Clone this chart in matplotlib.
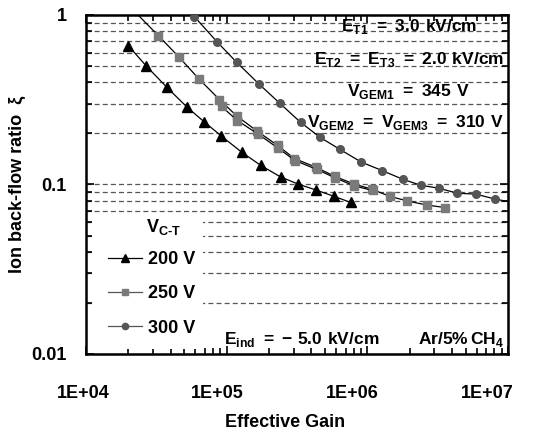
import matplotlib.pyplot as plt
import matplotlib.transforms as mtransforms
from matplotlib.patches import Rectangle

plt.rcParams["font.family"] = ["Liberation Sans", "DejaVu Sans"]
plt.rcParams["font.weight"] = "bold"
plt.rcParams["mathtext.fontset"] = "custom"
plt.rcParams["mathtext.rm"] = "Liberation Sans"
plt.rcParams["mathtext.bf"] = "Liberation Sans:bold"

# V_C-T = 200 V
gain_200 = [2.0e4, 2.67e4, 3.75e4, 5.25e4, 6.93e4, 9.1e4, 1.28e5, 1.75e5,
            2.42e5, 3.24e5, 4.31e5, 5.82e5, 7.64e5]
ibf_200 = [0.659, 0.502, 0.375, 0.285, 0.234, 0.194, 0.155, 0.1295,
           0.1107, 0.1004, 0.0928, 0.0850, 0.0783]

# V_C-T = 250 V (two runs)
gain_250a = [2.05e4, 3.27e4, 4.56e4, 6.36e4, 8.89e4, 1.18e5, 1.64e5, 2.30e5,
             3.03e5, 4.35e5, 5.89e5, 8.03e5, 1.08e6, 1.45e6, 1.93e6, 2.64e6, 3.56e6]
ibf_250a = [1.12, 0.755, 0.567, 0.419, 0.317, 0.2535, 0.207, 0.170,
            0.1423, 0.126, 0.1115, 0.1007, 0.0937, 0.085, 0.0799, 0.0757, 0.0731]
gain_250b = [9.21e4, 1.19e5, 1.67e5, 2.31e5, 3.06e5, 4.38e5, 5.93e5, 8.1e5, 1.09e6]
ibf_250b = [0.2885, 0.2385, 0.1986, 0.1642, 0.1385, 0.1226, 0.1092, 0.098, 0.0922]

# V_C-T = 300 V
gain_300 = [5.90e4, 8.60e4, 1.178e5, 1.70e5, 2.39e5, 3.35e5, 4.60e5, 6.39e5,
            9.04e5, 1.28e6, 1.78e6, 2.40e6, 3.22e6, 4.37e6, 5.91e6, 8.07e6, 1.2e7]
ibf_300 = [0.977, 0.690, 0.526, 0.391, 0.301, 0.2328, 0.190, 0.161,
           0.1357, 0.1206, 0.1075, 0.0989, 0.0951, 0.0888, 0.0877, 0.0821, 0.0770]

xticks = [1e4, 1e5, 1e6, 1e7]
xtick_labels = ["1E+04", "1E+05", "1E+06", "1E+07"]
xtick_shift_px = [-3, -9, -15, -21]
yticks = [0.01, 0.1, 1]
ytick_labels = ["0.01", "0.1", "1"]

fig = plt.figure(figsize=(5.46, 4.32), dpi=100)
ax = fig.add_axes([0.1575, 0.1806, 0.7729, 0.7847])
ax.set_xscale("log")
ax.set_yscale("log")
ax.set_xlim(1e4, 1e7)
ax.set_ylim(0.01, 1)
ax.set_axisbelow(True)

ax.yaxis.grid(True, which="both", color="#555555", linestyle=(0, (4, 2.5)), linewidth=0.9)

# white area behind the legend
blend = mtransforms.blended_transform_factory(ax.transAxes, ax.transData)
ax.add_patch(Rectangle((0.019, 0.0107), 0.258, 0.0553, transform=blend,
                       facecolor="white", edgecolor="none", zorder=1))

ax.plot(gain_200, ibf_200, color="black", lw=0.9, marker="^", ms=7,
        mfc="black", mec="black", zorder=3)
ax.plot(gain_250a, ibf_250a, color="black", lw=0.9, marker="s", ms=6,
        mfc="#7a7a7a", mec="#7a7a7a", zorder=3)
ax.plot(gain_250b, ibf_250b, color="black", lw=0.9, marker="s", ms=6,
        mfc="#7a7a7a", mec="#7a7a7a", zorder=3)
ax.plot(gain_300, ibf_300, color="black", lw=0.9, marker="o", ms=5.5,
        mfc="#555555", mec="#555555", zorder=3)

ax.set_xticks(xticks)
ax.set_xticklabels(xtick_labels)
ax.set_yticks(yticks)
ax.set_yticklabels(ytick_labels)
ax.tick_params(which="both", direction="in", top=True, right=True,
               labelsize=13, width=1.2)
ax.tick_params(which="major", length=6)
ax.tick_params(which="minor", length=4)
ax.tick_params(axis="x", pad=22)
ax.tick_params(axis="y", pad=14)
for lab in ax.get_yticklabels():
    lab.set_fontweight("bold")
for lab, dx in zip(ax.get_xticklabels(), xtick_shift_px):
    lab.set_fontweight("bold")
    lab.set_transform(lab.get_transform() +
                      mtransforms.ScaledTranslation(dx / 100, 0, fig.dpi_scale_trans))
for sp in ax.spines.values():
    sp.set_linewidth(1.8)

ax.set_xlabel("Effective Gain", fontsize=13, fontweight="bold")
ax.xaxis.set_label_coords(0.4716, -0.177)
ax.set_ylabel("Ion back-flow ratio  ξ", fontsize=13, fontweight="bold")
ax.yaxis.set_label_coords(-0.142, 0.5)

fs = 12.5
eq = r"\;\mathbf{=}\;"
ax.text(0.928, 0.965, r"$\mathbf{E}_{\mathrm{T1}}" + eq + r"\mathbf{3.0\ kV/cm}$",
        transform=ax.transAxes, ha="right", va="center", fontsize=fs, zorder=4)
ax.text(0.99, 0.868, r"$\mathbf{E}_{\mathrm{T2}}" + eq + r"\mathbf{E}_{\mathrm{T3}}" + eq
        + r"\mathbf{2.0\ kV/cm}$",
        transform=ax.transAxes, ha="right", va="center", fontsize=fs, zorder=4)
ax.text(0.91, 0.773, r"$\mathbf{V}_{\mathrm{GEM1}}" + eq + r"\mathbf{345\ V}$",
        transform=ax.transAxes, ha="right", va="center", fontsize=fs, zorder=4)
ax.text(0.99, 0.684, r"$\mathbf{V}_{\mathrm{GEM2}}" + eq + r"\mathbf{V}_{\mathrm{GEM3}}" + eq
        + r"\mathbf{310\ V}$",
        transform=ax.transAxes, ha="right", va="center", fontsize=fs, zorder=4)
ax.text(0.327, 0.044, r"$\mathbf{E}_{\mathbf{ind}}" + eq + r"\mathbf{-}\;\mathbf{5.0\ kV/cm}$",
        transform=ax.transAxes, ha="left", va="center", fontsize=fs, zorder=4)
ax.text(0.99, 0.044, r"$\mathbf{Ar/5\%\,CH}_{\mathbf{4}}$",
        transform=ax.transAxes, ha="right", va="center", fontsize=fs, zorder=4)
ax.text(0.142, 0.375, r"$\mathbf{V}_{\mathbf{C\text{-}T}}$",
        transform=ax.transAxes, ha="left", va="center", fontsize=13, zorder=4)

h200, = ax.plot([], [], color="black", lw=0.9, marker="^", ms=6, mfc="black", mec="black")
h250, = ax.plot([], [], color="#555555", lw=0.9, marker="s", ms=5, mfc="#7a7a7a", mec="#7a7a7a")
h300, = ax.plot([], [], color="#555555", lw=0.9, marker="o", ms=4.5, mfc="#555555", mec="#555555")
leg = ax.legend([h200, h250, h300], ["200 V", "250 V", "300 V"],
                loc="lower left", bbox_to_anchor=(0.035, 0.03), frameon=False,
                fontsize=13, handlelength=1.9, handletextpad=0.3,
                labelspacing=0.95, borderaxespad=0)
for t in leg.get_texts():
    t.set_fontweight("bold")

fig.savefig("out.png", dpi=100)
